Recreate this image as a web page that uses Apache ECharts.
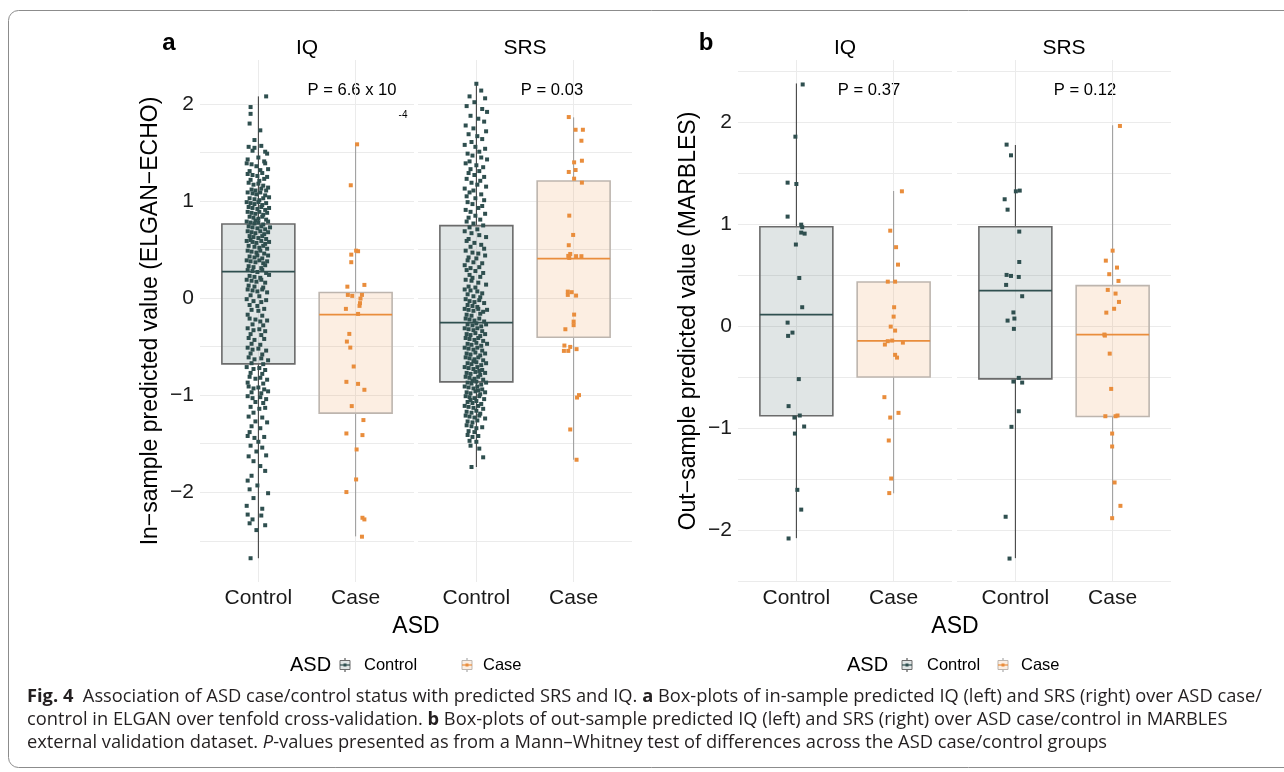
<!DOCTYPE html>
<html>
<head>
<meta charset="utf-8">
<script src="https://cdn.jsdelivr.net/npm/echarts@6/dist/echarts.min.js"></script>
<style>
html, body { margin: 0; padding: 0; background: #fff; }
#main { width: 1284px; height: 772px; }
</style>
</head>
<body>
<div id="main"></div>
<script>
// ASD case/control boxplots with jittered points (fig. 4 a, b)
var groups = ['Control', 'Case'];
var yTicks = [-2, -1, 0, 1, 2];
var yGridA = [-2.5, -2, -1.5, -1, -0.5, 0, 0.5, 1, 1.5, 2];
var yGridB = [-2.5, -2, -1.5, -1, -0.5, 0, 0.5, 1, 1.5, 2, 2.5];

// [position, whisker low, q1, median, q3, whisker high]
var boxInIQ = [[1, -2.68, -0.677, 0.274, 0.765, 2.08], [2, -2.455, -1.184, -0.169, 0.058, 1.596]];
var boxInSRS = [[1, -1.74, -0.862, -0.251, 0.748, 2.214], [2, -1.665, -0.402, 0.408, 1.208, 1.864]];
var boxOutIQ = [[1, -2.08, -0.88, 0.113, 0.975, 2.38], [2, -1.64, -0.50, -0.144, 0.433, 1.325]];
var boxOutSRS = [[1, -2.276, -0.518, 0.348, 0.975, 1.776], [2, -1.886, -0.887, -0.083, 0.397, 1.97]];

var pValues = ['P = 6.6 x 10', 'P = 0.03', 'P = 0.37', 'P = 0.12'];

// jittered points [x, value]
var ptsInIQCtrl = [
 [1.08,2.08],[0.92,1.97],[0.92,1.90],[0.91,1.80],[1.02,1.73],[0.96,1.63],
 [0.90,1.56],[0.96,1.55],[1.03,1.57],[1.07,1.51],[0.94,1.52],
 [1.09,1.49],[0.89,1.43],[1.00,1.45],[1.06,1.41],
 [0.88,1.39],[0.93,1.38],[0.98,1.36],[1.07,1.39],[1.10,1.33],[0.91,1.31],[1.02,1.32],
 [0.89,1.28],[0.94,1.27],[0.99,1.26],[1.04,1.29],[1.09,1.25],[0.92,1.22],[1.01,1.21],[1.06,1.23],
 [0.90,1.19],[0.95,1.17],[1.00,1.18],[1.05,1.16],[1.10,1.14],[0.93,1.12],[0.97,1.11],[1.03,1.13],[1.08,1.11],
 [0.89,1.09],[0.94,1.08],[0.98,1.07],[1.02,1.09],[1.07,1.06],[1.11,1.04],[0.91,1.03],[0.96,1.02],[1.01,1.01],[1.05,1.03],
 [0.88,0.99],[0.92,0.98],[0.96,0.97],[1.00,0.99],[1.04,0.96],[1.08,0.98],[0.90,0.94],[0.94,0.93],[0.99,0.92],[1.03,0.94],[1.07,0.91],[1.11,0.93],
 [0.89,0.89],[0.93,0.88],[0.97,0.87],[1.01,0.89],[1.05,0.86],[1.09,0.88],[0.91,0.84],[0.95,0.83],[1.00,0.82],[1.04,0.84],[1.08,0.81],[0.97,0.80],
 [0.88,0.79],[0.92,0.78],[0.96,0.77],[1.00,0.78],[1.05,0.76],[1.10,0.79],[0.90,0.74],[0.94,0.73],[0.99,0.72],[1.03,0.74],[1.07,0.71],[1.12,0.73],
 [0.89,0.69],[0.93,0.68],[0.97,0.67],[1.02,0.69],[1.06,0.66],[1.10,0.68],[0.91,0.64],[0.95,0.63],[1.00,0.62],[1.04,0.64],[1.08,0.61],[0.92,0.60],
 [0.88,0.59],[0.94,0.58],[0.98,0.57],[1.03,0.59],[1.07,0.56],[1.11,0.58],[0.90,0.54],[0.96,0.53],[1.01,0.52],[1.05,0.54],[1.09,0.51],
 [0.89,0.49],[0.93,0.48],[0.98,0.47],[1.02,0.49],[1.06,0.46],[1.10,0.44],[0.91,0.43],[0.96,0.42],[1.04,0.41],[0.99,0.44],
 [0.88,0.39],[0.92,0.38],[0.97,0.37],[1.01,0.39],[1.05,0.36],[1.09,0.38],[0.90,0.33],[0.95,0.32],[1.03,0.31],[1.07,0.34],
 [0.89,0.29],[0.94,0.28],[0.99,0.27],[1.04,0.29],[1.08,0.26],[0.91,0.23],[0.96,0.22],[1.02,0.21],[1.11,0.24],
 [0.88,0.19],[0.93,0.18],[0.98,0.17],[1.03,0.19],[1.07,0.16],[0.90,0.13],[0.96,0.12],[1.05,0.11],
 [0.89,0.09],[0.94,0.08],[0.99,0.07],[1.04,0.09],[1.09,0.06],[0.92,0.03],[1.01,0.02],
 [0.88,-0.01],[0.95,-0.03],[1.03,-0.04],[1.08,-0.02],[0.91,-0.07],[0.99,-0.08],
 [0.93,-0.12],[1.00,-0.13],[1.06,-0.11],[0.89,-0.17],[1.04,-0.18],
 [0.91,-0.21],[0.97,-0.22],[1.02,-0.24],[1.09,-0.23],[0.94,-0.27],[1.05,-0.28],
 [0.89,-0.31],[0.95,-0.33],[1.01,-0.32],[1.07,-0.34],[0.92,-0.37],[1.03,-0.38],
 [0.90,-0.41],[0.96,-0.43],[1.06,-0.42],[0.93,-0.47],[1.02,-0.48],
 [0.89,-0.51],[0.94,-0.53],[1.00,-0.52],[1.08,-0.54],[0.92,-0.57],[1.04,-0.58],
 [0.90,-0.61],[0.96,-0.63],[1.03,-0.62],[1.10,-0.64],[0.93,-0.67],[1.05,-0.68],
 [0.88,-0.71],[0.95,-0.73],[1.01,-0.72],[1.07,-0.74],[0.92,-0.77],[1.04,-0.78],
 [0.91,-0.81],[0.97,-0.83],[1.02,-0.82],[1.09,-0.84],[0.89,-0.87],[1.05,-0.88],
 [0.90,-0.91],[0.95,-0.93],[1.00,-0.92],[1.06,-0.94],[0.93,-0.97],[1.03,-0.98],[1.10,-0.96],
 [0.89,-1.01],[0.94,-1.03],[1.02,-1.02],[1.08,-1.04],[0.97,-1.07],[1.05,-1.08],
 [0.92,-1.12],[1.01,-1.14],[1.07,-1.13],[0.95,-1.18],
 [0.90,-1.22],[1.04,-1.23],[0.97,-1.27],[1.09,-1.28],
 [0.93,-1.32],[1.02,-1.34],[0.91,-1.38],
 [0.89,-1.42],[0.96,-1.44],[1.06,-1.43],[1.00,-1.48],
 [0.92,-1.52],[1.04,-1.54],[0.98,-1.58],
 [0.90,-1.63],[1.08,-1.62],[0.95,-1.68],
 [1.02,-1.73],[1.07,-1.78],[0.93,-1.83],[0.89,-1.88],[0.99,-1.93],[0.91,-1.97],
 [1.10,-2.01],[0.95,-2.06],[0.88,-2.14],[1.04,-2.17],
 [0.89,-2.23],[1.03,-2.24],[0.94,-2.28],[0.91,-2.32],[1.07,-2.34],[0.98,-2.39],
 [0.92,-2.68]
];
var ptsInIQCase = [
 [2.015,1.586],[1.95,1.164],[2.005,0.49],[2.025,0.484],[1.955,0.449],[1.955,0.371],
 [2.09,0.137],[1.915,0.119],[1.92,0.034],[1.965,0.024],[2.065,0.034],[2.05,-0.004],
 [2.04,-0.079],[1.9,-0.11],[2.025,-0.162],[2.045,-0.051],[1.935,-0.368],[1.91,-0.447],
 [1.945,-0.509],[1.98,-0.704],[1.905,-0.862],[2.025,-0.883],[2.09,-0.944],[1.96,-1.112],
 [2.08,-1.256],[1.905,-1.394],[2.07,-1.411],[2.01,-1.559],[2.005,-1.868],[1.905,-1.998],
 [2.07,-2.263],[2.09,-2.28],[2.065,-2.458]
];
var ptsInSRSCtrl = [
 [1.00,2.21],[1.05,2.14],[0.93,2.08],[1.09,2.06],[0.98,2.02],
 [0.90,1.98],[1.06,1.95],[1.11,1.92],[0.94,1.88],[1.02,1.85],[1.08,1.82],
 [0.89,1.78],[0.97,1.75],[1.10,1.72],[0.92,1.69],[1.01,1.67],[1.06,1.64],[0.95,1.61],
 [0.88,1.58],[0.99,1.56],[1.09,1.54],[1.03,1.51],
 [0.91,1.49],[0.96,1.47],[1.05,1.45],[1.11,1.43],[0.93,1.41],
 [0.89,1.39],[1.00,1.37],[1.07,1.35],[0.94,1.33],[1.03,1.31],
 [0.92,1.29],[0.98,1.27],[1.08,1.25],[0.90,1.23],[1.04,1.21],
 [0.95,1.19],[1.01,1.17],[1.10,1.15],[0.88,1.13],[0.97,1.11],
 [0.93,1.09],[1.05,1.07],[0.90,1.05],[0.99,1.03],[1.08,1.01],
 [0.91,0.99],[0.96,0.97],[1.06,0.95],[1.02,0.93],[0.89,0.91],
 [0.94,0.89],[1.09,0.87],[0.99,0.85],[0.92,0.83],[1.04,0.81],
 [0.90,0.79],[0.97,0.77],[1.07,0.75],[0.93,0.73],[1.01,0.71],
 [0.88,0.69],[0.95,0.67],[1.03,0.65],[1.10,0.63],[0.92,0.61],
 [0.90,0.59],[0.98,0.57],[1.05,0.55],[0.94,0.53],[1.08,0.51],
 [0.89,0.49],[0.96,0.47],[1.02,0.46],[1.09,0.44],[0.92,0.42],[1.00,0.41],
 [0.91,0.39],[0.97,0.37],[1.06,0.36],[0.88,0.34],[1.03,0.32],[0.94,0.31],
 [0.90,0.29],[0.99,0.28],[1.07,0.26],[0.93,0.24],[1.04,0.22],[0.96,0.21],
 [0.89,0.19],[0.95,0.18],[1.02,0.16],[1.10,0.14],[0.92,0.12],[0.99,0.11],
 [0.88,0.09],[0.94,0.08],[1.01,0.07],[1.06,0.05],[0.91,0.04],[0.97,0.02],[1.04,0.01],
 [0.89,-0.01],[0.93,-0.03],[0.98,-0.04],[1.03,-0.02],[1.08,-0.05],[0.91,-0.07],[0.96,-0.08],[1.01,-0.09],
 [0.88,-0.11],[0.92,-0.12],[0.97,-0.13],[1.02,-0.11],[1.07,-0.14],[1.11,-0.12],[0.90,-0.17],[0.95,-0.18],[1.04,-0.16],
 [0.89,-0.21],[0.93,-0.22],[0.98,-0.23],[1.03,-0.21],[1.08,-0.24],[0.91,-0.27],[0.96,-0.28],[1.00,-0.26],[1.05,-0.29],[1.10,-0.27],
 [0.88,-0.31],[0.92,-0.32],[0.97,-0.33],[1.01,-0.31],[1.06,-0.34],[0.90,-0.37],[0.94,-0.38],[0.99,-0.36],[1.04,-0.39],[1.09,-0.37],
 [0.89,-0.41],[0.93,-0.42],[0.98,-0.43],[1.02,-0.41],[1.07,-0.44],[0.91,-0.47],[0.95,-0.48],[1.00,-0.46],[1.05,-0.49],[1.11,-0.47],
 [0.88,-0.51],[0.92,-0.52],[0.97,-0.53],[1.01,-0.51],[1.06,-0.54],[0.90,-0.57],[0.94,-0.58],[0.99,-0.56],[1.04,-0.59],[1.09,-0.57],
 [0.89,-0.61],[0.93,-0.62],[0.98,-0.63],[1.02,-0.61],[1.07,-0.64],[0.91,-0.67],[0.95,-0.68],[1.00,-0.66],[1.05,-0.69],[1.10,-0.67],[0.97,-0.65],
 [0.88,-0.71],[0.92,-0.72],[0.97,-0.73],[1.01,-0.71],[1.06,-0.74],[0.90,-0.77],[0.94,-0.78],[0.99,-0.76],[1.04,-0.79],[1.09,-0.77],[1.03,-0.75],
 [0.89,-0.81],[0.93,-0.82],[0.98,-0.83],[1.02,-0.81],[1.07,-0.84],[0.91,-0.87],[0.95,-0.88],[1.00,-0.86],[1.05,-0.89],[1.10,-0.87],[0.96,-0.85],
 [0.88,-0.91],[0.92,-0.92],[0.97,-0.93],[1.01,-0.91],[1.06,-0.94],[0.90,-0.97],[0.94,-0.98],[0.99,-0.96],[1.04,-0.99],[1.09,-0.97],[1.02,-0.95],
 [0.89,-1.01],[0.93,-1.02],[0.98,-1.03],[1.03,-1.01],[1.08,-1.04],[0.91,-1.07],[0.96,-1.08],[1.00,-1.06],[1.05,-1.09],[0.94,-1.05],
 [0.88,-1.11],[0.92,-1.12],[0.97,-1.13],[1.02,-1.11],[1.07,-1.14],[0.90,-1.17],[0.95,-1.18],[1.00,-1.16],[1.04,-1.19],
 [0.89,-1.21],[0.93,-1.22],[0.98,-1.23],[1.03,-1.21],[1.09,-1.24],[0.91,-1.27],[0.96,-1.28],[1.01,-1.26],
 [0.90,-1.31],[0.95,-1.32],[1.00,-1.34],[1.06,-1.33],[0.92,-1.37],[0.98,-1.38],
 [0.91,-1.41],[0.96,-1.43],[1.02,-1.42],[0.93,-1.47],[1.00,-1.48],
 [0.94,-1.52],[1.03,-1.55],[1.07,-1.64],[0.95,-1.74]
];
var ptsInSRSCase = [
 [1.95,1.867],[2.02,1.736],[2.095,1.736],[2.08,1.623],[2.005,1.4],[2.085,1.417],
 [1.95,1.301],[2.02,1.321],[2.005,1.232],[2.085,1.191],[1.955,0.851],[1.995,0.652],
 [1.95,0.546],[1.965,0.456],[1.945,0.436],[1.955,0.415],[2.025,0.433],[2.08,0.433],
 [1.94,0.068],[1.94,0.034],[1.98,0.062],[2.025,0.027],[2.005,-0.169],[2.0,-0.241],
 [2.0,-0.278],[1.915,-0.32],[1.905,-0.488],[1.965,-0.502],[1.9,-0.543],[1.945,-0.543],
 [2.03,-0.525],[2.055,-0.999],[2.035,-1.024],[1.965,-1.353],[2.03,-1.665]
];
var ptsOutIQCtrl = [
 [1.065,2.37],[0.99,1.858],[0.91,1.407],[1.0,1.394],[0.91,1.074],[1.05,0.995],
 [1.06,0.97],[1.05,0.917],[1.085,0.907],[0.995,0.80],[1.03,0.472],[1.06,0.185],
 [0.91,0.034],[0.915,-0.096],[0.96,-0.064],[1.025,-0.52],[0.92,-0.785],[0.98,-0.897],
 [1.035,-0.877],[1.08,-0.985],[0.985,-1.054],[1.01,-1.606],[1.05,-1.80],[0.92,-2.083]
];
var ptsOutIQCase = [
 [2.085,1.322],[1.965,0.936],[2.025,0.774],[2.045,0.603],[1.94,0.436],[2.015,0.436],
 [2.005,0.185],[2.0,0.093],[1.97,-0.005],[2.015,-0.044],[1.91,-0.181],[1.94,-0.148],
 [1.985,-0.142],[2.095,-0.162],[2.015,-0.282],[2.035,-0.309],[1.905,-0.697],[2.05,-0.851],
 [1.965,-0.897],[1.95,-1.122],[1.975,-1.495],[1.955,-1.638]
];
var ptsOutSRSCtrl = [
 [0.91,1.78],[0.955,1.675],[1.005,1.322],[1.045,1.329],[0.89,1.244],[0.92,1.142],
 [1.04,0.927],[1.04,0.629],[0.91,0.502],[0.955,0.492],[1.035,0.482],[0.905,0.404],
 [1.07,0.293],[0.98,0.134],[0.99,0.074],[0.92,0.054],[0.985,-0.027],[1.035,-0.508],
 [0.98,-0.544],[1.07,-0.554],[1.035,-0.835],[0.96,-0.988],[0.90,-1.87],[0.94,-2.28]
];
var ptsOutSRSCase = [
 [2.075,1.963],[2.0,0.74],[1.93,0.642],[2.045,0.574],[1.965,0.509],[2.06,0.443],
 [1.95,0.355],[2.03,0.319],[2.065,0.237],[2.015,0.17],[1.935,0.132],[1.915,-0.083],
 [1.92,-0.093],[1.97,-0.27],[1.985,-0.616],[1.925,-0.884],[2.03,-0.884],[2.05,-0.877],
 [1.995,-1.054],[1.995,-1.181],[2.02,-1.534],[2.08,-1.763],[1.995,-1.884]
];

var FONT = 'Liberation Sans, Arial, sans-serif';
var ptColor = ['#2f4f4f', '#e98d3c'];
var boxFill = ['rgba(47,79,79,0.15)', 'rgba(233,141,60,0.15)'];
var boxEdge = ['#6b6b6b', '#bdb5ae'];
var whiskerColor = ['#333333', '#999999'];
var medianColor = ['#2f4f4f', '#e98d3c'];
var halfW = 0.375;

function minus(v) { return String(v).replace('-', '\u2212'); }

var panels = [
  { left: 200, ymin: -2.925, ymax: 2.455, grid: yGridA, box: boxInIQ, ctrl: ptsInIQCtrl, cas: ptsInIQCase, labels: true, name: 'In\u2212sample predicted value (ELGAN\u2212ECHO)' },
  { left: 418, ymin: -2.925, ymax: 2.455, grid: yGridA, box: boxInSRS, ctrl: ptsInSRSCtrl, cas: ptsInSRSCase, labels: false },
  { left: 738, ymin: -2.51, ymax: 2.61, grid: yGridB, box: boxOutIQ, ctrl: ptsOutIQCtrl, cas: ptsOutIQCase, labels: true, name: 'Out\u2212sample predicted value (MARBLES)' },
  { left: 957, ymin: -2.51, ymax: 2.61, grid: yGridB, box: boxOutSRS, ctrl: ptsOutSRSCtrl, cas: ptsOutSRSCase, labels: false }
];

function renderBox(params, api) {
  var pos = api.value(0);
  var lo = api.coord([pos, api.value(1)]);
  var q1 = api.coord([pos, api.value(2)]);
  var md = api.coord([pos, api.value(3)]);
  var q3 = api.coord([pos, api.value(4)]);
  var hi = api.coord([pos, api.value(5)]);
  var xl = api.coord([pos - halfW, 0])[0];
  var xr = api.coord([pos + halfW, 0])[0];
  var g = params.dataIndex;
  return {
    type: 'group',
    children: [
      { type: 'line', shape: { x1: hi[0], y1: hi[1], x2: q3[0], y2: q3[1] }, style: { stroke: whiskerColor[g], lineWidth: 1 } },
      { type: 'line', shape: { x1: q1[0], y1: q1[1], x2: lo[0], y2: lo[1] }, style: { stroke: whiskerColor[g], lineWidth: 1 } },
      { type: 'rect', shape: { x: xl, y: q3[1], width: xr - xl, height: q1[1] - q3[1] }, style: { fill: boxFill[g], stroke: boxEdge[g], lineWidth: 1.6 } },
      { type: 'line', shape: { x1: xl, y1: md[1], x2: xr, y2: md[1] }, style: { stroke: medianColor[g], lineWidth: 1.8 } }
    ]
  };
}

var grids = [], xAxes = [], yAxes = [], series = [];
panels.forEach(function (p, i) {
  grids.push({ left: p.left, top: 60, width: 214, height: 522 });
  xAxes.push({
    gridIndex: i, type: 'value', min: 0.4, max: 2.6,
    axisLine: { show: false },
    axisTick: { show: false, customValues: [1, 2] },
    axisLabel: { customValues: [1, 2], formatter: function (v) { return groups[Math.round(v) - 1]; },
      fontFamily: FONT, fontSize: 21, color: '#1a1a1a', margin: 6 },
    splitLine: { show: true, lineStyle: { color: '#ebebeb', width: 1 } }
  });
  yAxes.push({
    gridIndex: i, type: 'value', min: p.ymin, max: p.ymax,
    axisLine: { show: false },
    axisTick: { show: false, customValues: p.grid },
    axisLabel: { show: p.labels, customValues: yTicks, formatter: minus,
      fontFamily: FONT, fontSize: 21, color: '#1a1a1a', margin: 6 },
    splitLine: { show: true, lineStyle: { color: '#ebebeb', width: 1 } },
    name: p.name || '', nameLocation: 'middle', nameGap: 38,
    nameTextStyle: { fontFamily: FONT, fontSize: 23, color: '#000' }
  });
  series.push({
    type: 'custom', xAxisIndex: i, yAxisIndex: i, renderItem: renderBox,
    encode: { x: 0, y: [1, 2, 3, 4, 5] }, data: p.box, silent: true, z: 2
  });
  series.push({
    type: 'scatter', xAxisIndex: i, yAxisIndex: i, data: p.ctrl, symbol: 'rect', symbolSize: 4,
    itemStyle: { color: ptColor[0], opacity: 1 }, silent: true, z: 3
  });
  series.push({
    type: 'scatter', xAxisIndex: i, yAxisIndex: i, data: p.cas, symbol: 'rect', symbolSize: 4,
    itemStyle: { color: ptColor[1], opacity: 1 }, silent: true, z: 3
  });
});

function txt(x, y, s, size, extra) {
  var st = { x: x, y: y, text: s, fontFamily: FONT, fontSize: size, fill: '#000', align: 'center', verticalAlign: 'middle' };
  if (extra) { for (var k in extra) st[k] = extra[k]; }
  return { type: 'text', style: st, silent: true };
}

function legendIcon(x, y, g) {
  return [
    { type: 'line', shape: { x1: x + 5, y1: y - 7, x2: x + 5, y2: y + 7 }, style: { stroke: whiskerColor[g], lineWidth: 1 } },
    { type: 'rect', shape: { x: x, y: y - 4.5, width: 10, height: 9 }, style: { fill: g === 0 ? '#dfe4e4' : '#fbeee2', stroke: boxEdge[g], lineWidth: 1 } },
    { type: 'line', shape: { x1: x, y1: y, x2: x + 10, y2: y }, style: { stroke: medianColor[g], lineWidth: 1.2 } },
    { type: 'rect', shape: { x: x + 3.5, y: y - 1.5, width: 3, height: 3 }, style: { fill: ptColor[g] } }
  ];
}

var graphics = [
  { type: 'rect', shape: { x: 8.5, y: 10.5, width: 1300, height: 757, r: 10 }, style: { fill: 'none', stroke: '#8c8c8c', lineWidth: 1 }, silent: true },
  txt(169, 43, 'a', 24, { fontWeight: 'bold' }),
  txt(706, 43, 'b', 24, { fontWeight: 'bold' }),
  txt(307, 48, 'IQ', 21), txt(525, 48, 'SRS', 21),
  txt(845, 48, 'IQ', 21), txt(1064, 48, 'SRS', 21),
  txt(352, 90, pValues[0], 16.6),
  txt(403, 115, '-4', 10),
  txt(552, 90, pValues[1], 16.6),
  txt(869, 90, pValues[2], 16.6),
  txt(1085, 90, pValues[3], 16.6),
  txt(416, 627, 'ASD', 23),
  txt(955, 627, 'ASD', 23),
  txt(290, 665, 'ASD', 20, { align: 'left' }),
  txt(364, 665, groups[0], 16.5, { align: 'left' }),
  txt(483, 665, groups[1], 16.5, { align: 'left' }),
  txt(847, 665, 'ASD', 20, { align: 'left' }),
  txt(927, 665, groups[0], 16.5, { align: 'left' }),
  txt(1021, 665, groups[1], 16.5, { align: 'left' })
];
graphics = graphics.concat(legendIcon(340, 665, 0), legendIcon(462, 665, 1), legendIcon(902, 665, 0), legendIcon(998, 665, 1));

var capFont = 'Open Sans, Noto Sans, sans-serif';
var capSize = 18.3;
var capRich = { b: { fontWeight: 'bold', fontFamily: capFont, fontSize: capSize, fill: '#231f20' },
                i: { fontStyle: 'italic', fontFamily: capFont, fontSize: capSize, fill: '#231f20' } };
var capLines = [
  '{b|Fig. 4}  Association of ASD case/control status with predicted SRS and IQ. {b|a} Box-plots of in-sample predicted IQ (left) and SRS (right) over ASD case/',
  'control in ELGAN over tenfold cross-validation. {b|b} Box-plots of out-sample predicted IQ (left) and SRS (right) over ASD case/control in MARBLES',
  'external validation dataset. {i|P}-values presented as from a Mann\u2013Whitney test of differences across the ASD case/control groups'
];
capLines.forEach(function (s, k) {
  graphics.push({ type: 'text', silent: true, style: { x: 27, y: 697 + k * 23, text: s, rich: capRich,
    fontFamily: capFont, fontSize: capSize, fill: '#231f20', align: 'left', verticalAlign: 'middle' } });
});

var chart = echarts.init(document.getElementById('main'), null, { renderer: 'canvas' });
chart.setOption({
  animation: false,
  backgroundColor: '#ffffff',
  grid: grids,
  xAxis: xAxes,
  yAxis: yAxes,
  series: series,
  graphic: { elements: graphics }
});
</script>
</body>
</html>
